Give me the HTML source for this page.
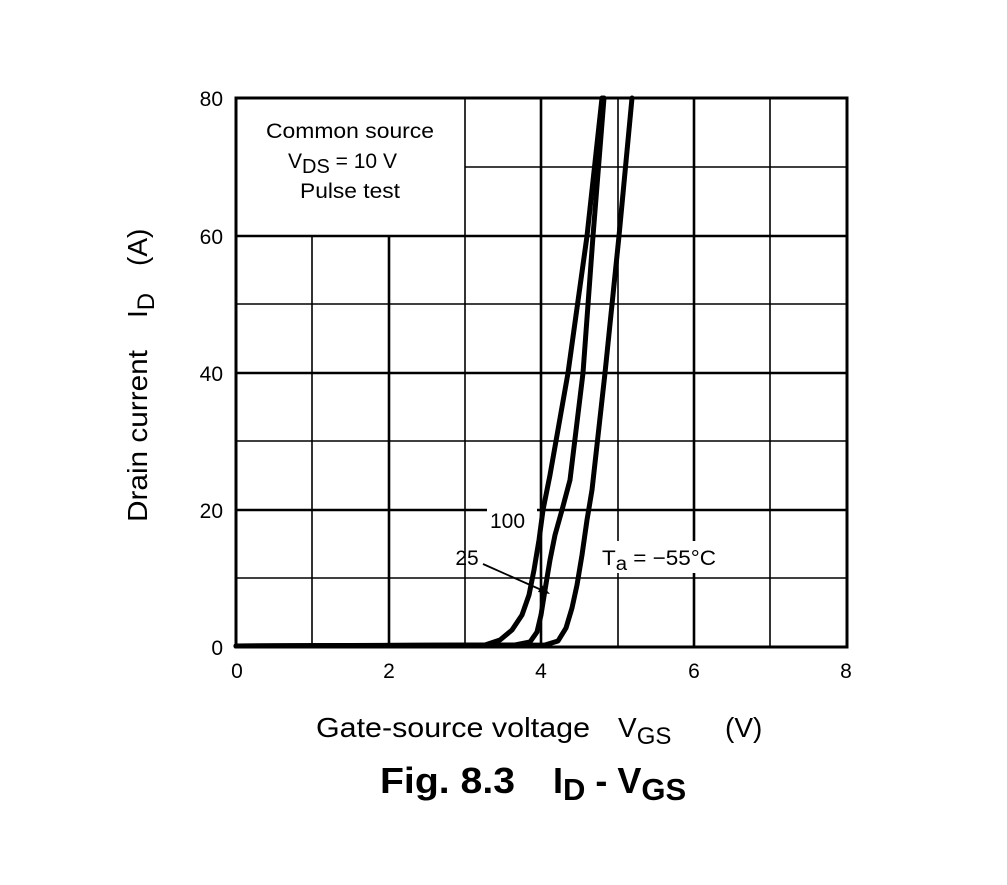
<!DOCTYPE html>
<html><head><meta charset="utf-8"><style>
body{margin:0;background:#fff;}
svg text{font-family:"Liberation Sans",Arial,sans-serif;fill:#000;}
</style></head><body>
<svg width="1007" height="880" viewBox="0 0 1007 880" xmlns="http://www.w3.org/2000/svg">
<rect width="1007" height="880" fill="#fff"/>
<g stroke="#000" fill="none">
<g stroke-width="1.6">
<line x1="465" y1="167" x2="847" y2="167"/>
<line x1="236" y1="304" x2="847" y2="304"/>
<line x1="236" y1="441" x2="847" y2="441"/>
<line x1="236" y1="578" x2="847" y2="578"/>
<line x1="312" y1="236" x2="312" y2="647"/>
<line x1="465" y1="98" x2="465" y2="647"/>
<line x1="618" y1="98" x2="618" y2="647"/>
<line x1="770" y1="98" x2="770" y2="647"/>
</g>
<g stroke-width="2.6">
<line x1="236" y1="236" x2="847" y2="236"/>
<line x1="236" y1="373" x2="847" y2="373"/>
<line x1="236" y1="510" x2="847" y2="510"/>
<line x1="389" y1="236" x2="389" y2="647"/>
<line x1="541" y1="98" x2="541" y2="647"/>
<line x1="694" y1="98" x2="694" y2="647"/>
</g>
<rect x="236" y="98" width="611" height="549" stroke-width="3"/>
</g>
<rect x="487" y="506" width="50" height="26" fill="#fff"/>
<rect x="598" y="541" width="122" height="32" fill="#fff"/>
<g stroke="#000" stroke-width="5" fill="none" stroke-linejoin="round" stroke-linecap="round">
<polyline points="236,646 485,645 500,640 512,630 522,615 529,595 534,570 539,540 543,510 550,475 568,373 587,236 602,98"/>
<polyline points="236,646 515,645 530,642 537,632 541,615 545,590 550,560 555,535 562,510 570,480 583,373 593,236 604,98"/>
<polyline points="236,646 545,645 558,641 566,628 572,608 577,585 582,555 587,520 592,490 605,373 619,236 632,98"/>
</g>
<line x1="483" y1="564" x2="546" y2="592" stroke="#000" stroke-width="1.8"/>
<path d="M550,594 L538,592 L542,585 Z" fill="#000"/>
<g font-size="21">
<text x="490" y="528">100</text>
<text x="467" y="565" text-anchor="middle">25</text>
<text x="602" y="565" textLength="114" lengthAdjust="spacingAndGlyphs">T<tspan font-size="19" dy="5">a</tspan><tspan dy="-5"> = −55°C</tspan></text>
<text x="266" y="138" textLength="168" lengthAdjust="spacingAndGlyphs">Common source</text>
<text x="288" y="168">V<tspan font-size="20" dy="5">DS</tspan><tspan dy="-5"> = 10 V</tspan></text>
<text x="300" y="198" textLength="100" lengthAdjust="spacingAndGlyphs">Pulse test</text>
</g>
<g font-size="21" text-anchor="end">
<text x="223" y="106">80</text>
<text x="223" y="244">60</text>
<text x="223" y="381">40</text>
<text x="223" y="518">20</text>
<text x="223" y="655">0</text>
</g>
<g font-size="21" text-anchor="middle">
<text x="237" y="678">0</text>
<text x="389" y="678">2</text>
<text x="541" y="678">4</text>
<text x="694" y="678">6</text>
<text x="846" y="678">8</text>
</g>
<g transform="translate(147,0)">
<text transform="translate(0,522) rotate(-90)" font-size="28" textLength="172" lengthAdjust="spacingAndGlyphs">Drain current</text>
<text transform="translate(0,318) rotate(-90)" font-size="28">I<tspan font-size="24" dy="7">D</tspan></text>
<text transform="translate(0,266) rotate(-90)" font-size="28">(A)</text>
</g>
<text x="316" y="737" font-size="28" textLength="274" lengthAdjust="spacingAndGlyphs">Gate-source voltage</text>
<text x="618" y="737" font-size="28">V<tspan font-size="24" dy="7">GS</tspan></text>
<text x="725" y="737" font-size="28">(V)</text>
<text x="380" y="793" font-size="36" font-weight="bold" textLength="135" lengthAdjust="spacingAndGlyphs">Fig. 8.3</text>
<text x="553" y="793" font-size="36" font-weight="bold">I<tspan font-size="31" dy="7">D</tspan><tspan dy="-7"> - V</tspan><tspan font-size="31" dy="7">GS</tspan></text>
</svg>
</body></html>
